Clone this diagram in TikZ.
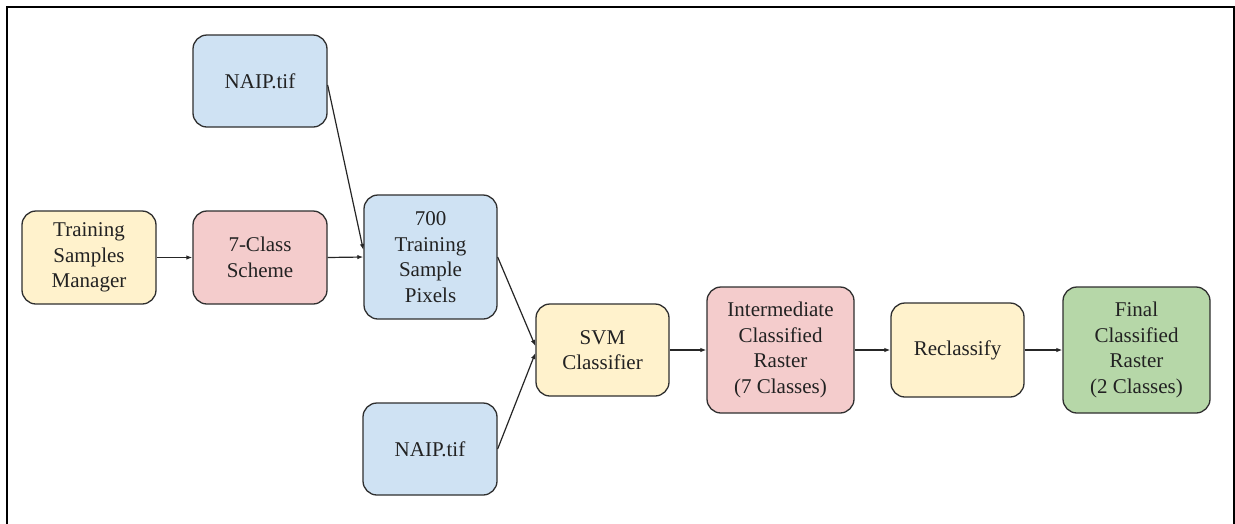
\documentclass[tikz,border=0pt]{standalone}
\usepackage{fontspec}
\IfFontExistsTF{LiberationSerif-Regular.ttf}
  {\setmainfont{LiberationSerif-Regular.ttf}}
  {\setmainfont{Liberation Serif}}
\usetikzlibrary{arrows.meta,calc}
\definecolor{bblue}{HTML}{CFE2F3}
\definecolor{byellow}{HTML}{FFF2CC}
\definecolor{bred}{HTML}{F4CCCC}
\definecolor{bgreen}{HTML}{B6D7A8}
\definecolor{edge}{HTML}{2F2F2F}
\definecolor{txt}{HTML}{222222}
\tikzset{
  box/.style={draw=edge, line width=1.3pt, rounded corners=14pt, inner sep=0pt,
    align=center, text=txt, font=\fontsize{21}{25.7}\selectfont},
  conn/.style={draw=black!85, line width=1.2pt, -{Latex[length=6pt,width=4.5pt]}}
}
\begin{document}
\begin{tikzpicture}[x=1pt,y=-1pt]
\useasboundingbox (0,0) rectangle (1235,523);
\fill[white] (0,0) rectangle (1235,523);
\draw[line width=2pt, black] (7,535) -- (7,7) -- (1234,7) -- (1234,535);

\node[box, fill=byellow, minimum width=134pt, minimum height=93pt] (tsm) at (89,257.5) {Training\\Samples\\Manager};
\node[box, fill=bred, minimum width=134pt, minimum height=93pt] (cls) at (260,257.5) {7-Class\\Scheme};
\node[box, fill=bblue, minimum width=134pt, minimum height=92pt] (naipa) at (260,81) {NAIP.tif};
\node[box, fill=bblue, minimum width=133pt, minimum height=124pt] (px) at (430.5,257) {700\\Training\\Sample\\Pixels};
\node[box, fill=bblue, minimum width=134pt, minimum height=92pt] (naipb) at (430,449) {NAIP.tif};
\node[box, fill=byellow, minimum width=133pt, minimum height=92pt] (svm) at (602.5,350) {SVM\\Classifier};
\node[box, fill=bred, minimum width=147pt, minimum height=126pt] (inter) at (780.5,350) {Intermediate\\Classified\\Raster\\(7 Classes)};
\node[box, fill=byellow, minimum width=133pt, minimum height=94pt] (recl) at (957.5,350) {Reclassify};
\node[box, fill=bgreen, minimum width=147pt, minimum height=126pt] (final) at (1136.5,350) {Final\\Classified\\Raster\\(2 Classes)};

\draw[conn] (tsm.east) -- (cls.west);
\draw[conn] (cls.east) -- (px.west);
\draw[conn] ($(naipa.east)+(0,4)$) -- ($(px.west)+(0,-7)$);
\draw[conn] (px.east) -- ($(svm.west)+(0,-4)$);
\draw[conn] (naipb.east) -- ($(svm.west)+(0,3)$);
\draw[conn] (svm.east) -- (inter.west);
\draw[conn] (inter.east) -- (recl.west);
\draw[conn] (recl.east) -- (final.west);
\end{tikzpicture}
\end{document}
